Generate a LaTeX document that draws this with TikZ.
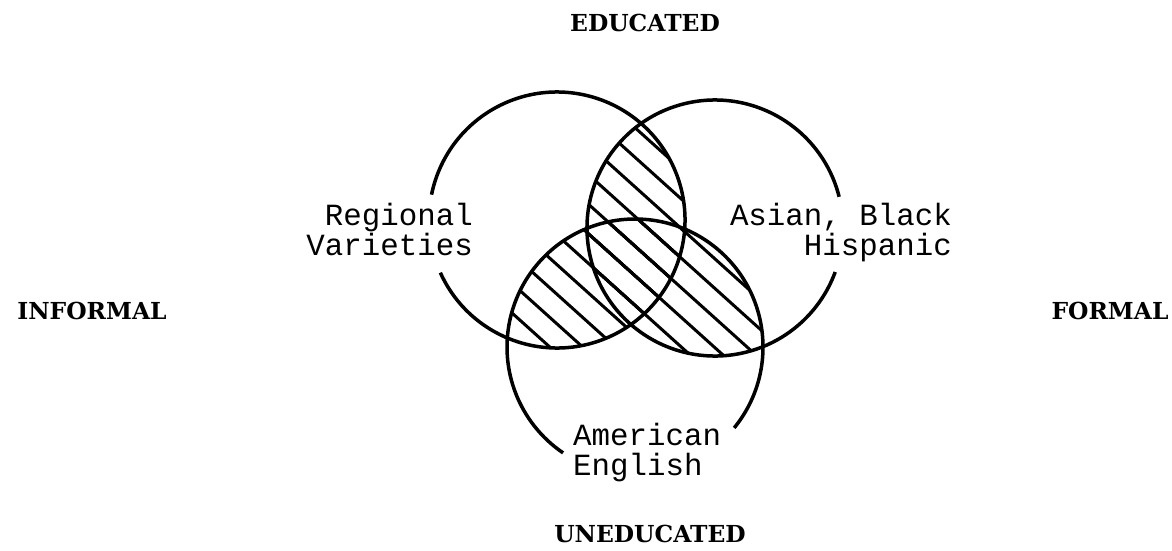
\documentclass[tikz,border=0pt]{standalone}
\usepackage{fontspec}
\setmonofont{Liberation Mono}
\newfontfamily\headfont{DejaVu Serif}
\begin{document}
\begin{tikzpicture}[x=1pt,y=1pt,
  ring/.style={line width=3.5pt},
  hatchline/.style={line width=3pt},
  lbl/.style={font=\ttfamily\fontsize{30.8}{30}\selectfont, inner sep=0pt},
  head/.style={font=\headfont\bfseries\fontsize{23.4}{24}\selectfont, inner sep=0pt}]
\useasboundingbox (0,0) rectangle (1172,550);
\coordinate (cL) at (557,330);
\coordinate (cR) at (715,322);
\coordinate (cB) at (635,203);
\def\rr{128}
% hatching of the regions shared by two or more circles
\foreach \a/\b in {cL/cR, cL/cB, cR/cB}{
  \begin{scope}
    \clip (\a) circle[radius=\rr];
    \clip (\b) circle[radius=\rr];
    \begin{scope}[shift={(625,401.7)}, rotate=-42]
      \foreach \k in {-20,...,20} \draw[hatchline] (-400,\k*22) -- (400,\k*22);
    \end{scope}
  \end{scope}
}
% circles
\draw[ring] (cL) ++(-155.7:\rr) arc[start angle=-155.7, end angle=168.6, radius=\rr];
\draw[ring] (cR) ++(14.1:\rr) arc[start angle=14.1, end angle=339.9, radius=\rr];
\draw[ring] (cB) ++(-39.2:\rr) arc[start angle=-39.2, end angle=235.8, radius=\rr];
% labels
\node[lbl, align=right, anchor=base east] (reg) at (473,295) {Regional\\Varieties};
\node[lbl, align=right, anchor=base east] (asi) at (952,295) {Asian, Black\\Hispanic};
\node[lbl, align=left, anchor=base west] (ame) at (573,75) {American\\English};
% axis headings
\node[head] (edu) at (645,527) {EDUCATED};
\node[head] (une) at (650,16) {UNEDUCATED};
\node[head] (inf) at (92,239) {INFORMAL};
\node[head] (for) at (1110,239) {FORMAL};
\end{tikzpicture}
\end{document}
